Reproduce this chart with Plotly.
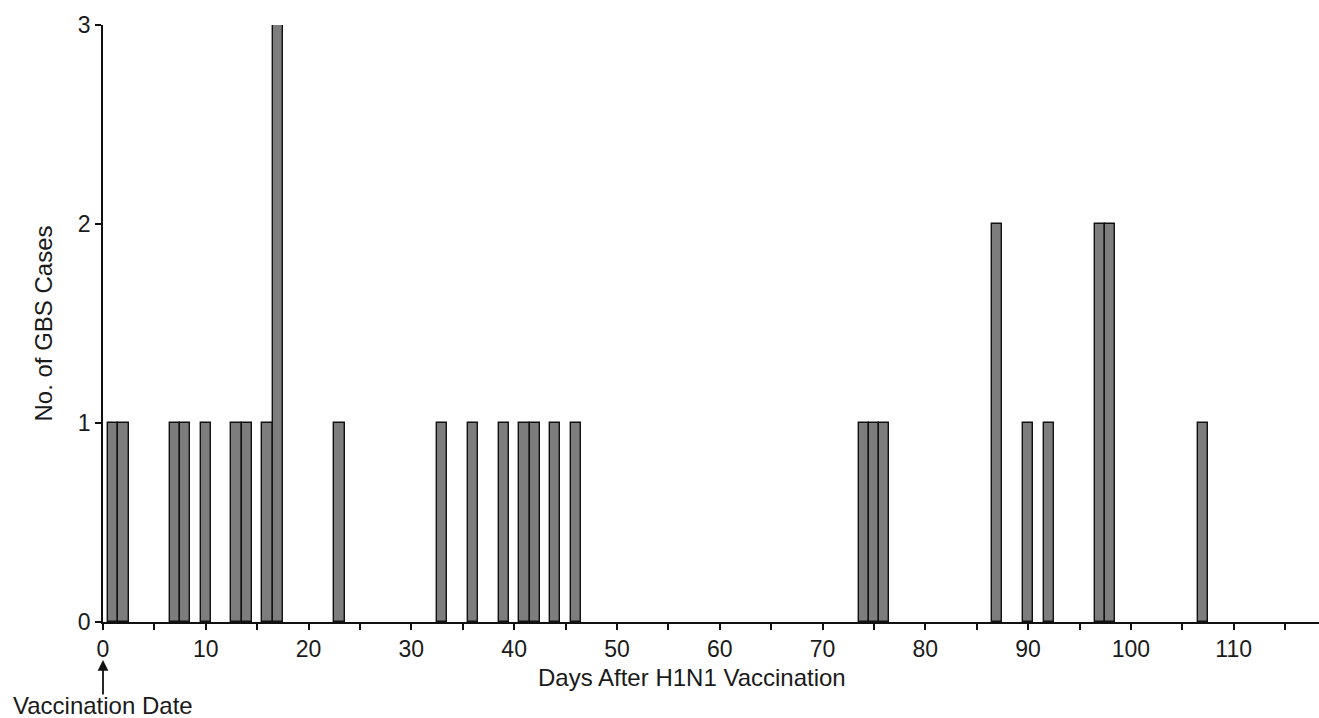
import plotly.graph_objects as go

# Data
days = [1, 2, 7, 8, 10, 13, 14, 16, 17, 23, 33, 36, 39, 41, 42, 44, 46,
        74, 75, 76, 87, 90, 92, 97, 98, 107]
cases = [1, 1, 1, 1, 1, 1, 1, 1, 3, 1, 1, 1, 1, 1, 1, 1, 1,
         1, 1, 1, 2, 1, 1, 2, 2, 1]
x_tick_vals = [0, 10, 20, 30, 40, 50, 60, 70, 80, 90, 100, 110]
y_tick_vals = [0, 1, 2, 3]

FONT = "Liberation Sans, Arial, sans-serif"

fig = go.Figure()
fig.add_trace(go.Bar(
    x=days, y=cases, width=1.0,
    marker=dict(color="#7d7d7d", line=dict(color="#111111", width=1.4)),
    showlegend=False,
))

fig.update_layout(
    width=1319, height=718,
    margin=dict(l=103, r=0, t=25, b=96),
    paper_bgcolor="white", plot_bgcolor="white",
    font=dict(family=FONT, size=23, color="#1a1a1a"),
    bargap=0,
    xaxis=dict(
        range=[0, 118.3], showgrid=False, zeroline=False,
        showline=True, linecolor="#111111", linewidth=1.5,
        ticks="outside", ticklen=6, tickwidth=1.5, tickcolor="#111111",
        tickvals=x_tick_vals, ticktext=[str(v) for v in x_tick_vals],
        minor=dict(ticks="outside", ticklen=6, tickwidth=1.5,
                   tickcolor="#111111", dtick=5, tick0=0),
        tickfont=dict(size=23),
    ),
    yaxis=dict(
        range=[0, 3], showgrid=False, zeroline=False,
        showline=True, linecolor="#111111", linewidth=1.5,
        ticks="outside", ticklen=6, tickwidth=1.5, tickcolor="#111111",
        tickvals=y_tick_vals, ticktext=[str(v) for v in y_tick_vals],
        tickfont=dict(size=23),
    ),
    annotations=[
        dict(text="Days After H1N1 Vaccination", xref="x", yref="paper",
             x=57.3, y=-0.093, xanchor="center", yanchor="middle",
             showarrow=False, font=dict(size=24)),
        dict(text="No. of GBS Cases", xref="paper", yref="paper",
             x=-0.0493, y=0.5, xanchor="center", yanchor="middle",
             textangle=-90, showarrow=False, font=dict(size=24)),
        dict(text="", xref="x", yref="paper", x=0, y=-0.0637,
             showarrow=True, arrowhead=2, arrowsize=1.2, arrowwidth=1.8,
             arrowcolor="#111111", ax=0, ay=36),
        dict(text="Vaccination Date", xref="x", yref="paper",
             x=0, y=-0.1407, xanchor="center", yanchor="middle",
             showarrow=False, font=dict(size=24)),
    ],
)

fig.write_html(
    "out.html",
    config={"displayModeBar": False},
    post_script="document.body.style.margin='0';document.body.style.overflow='hidden';",
)
